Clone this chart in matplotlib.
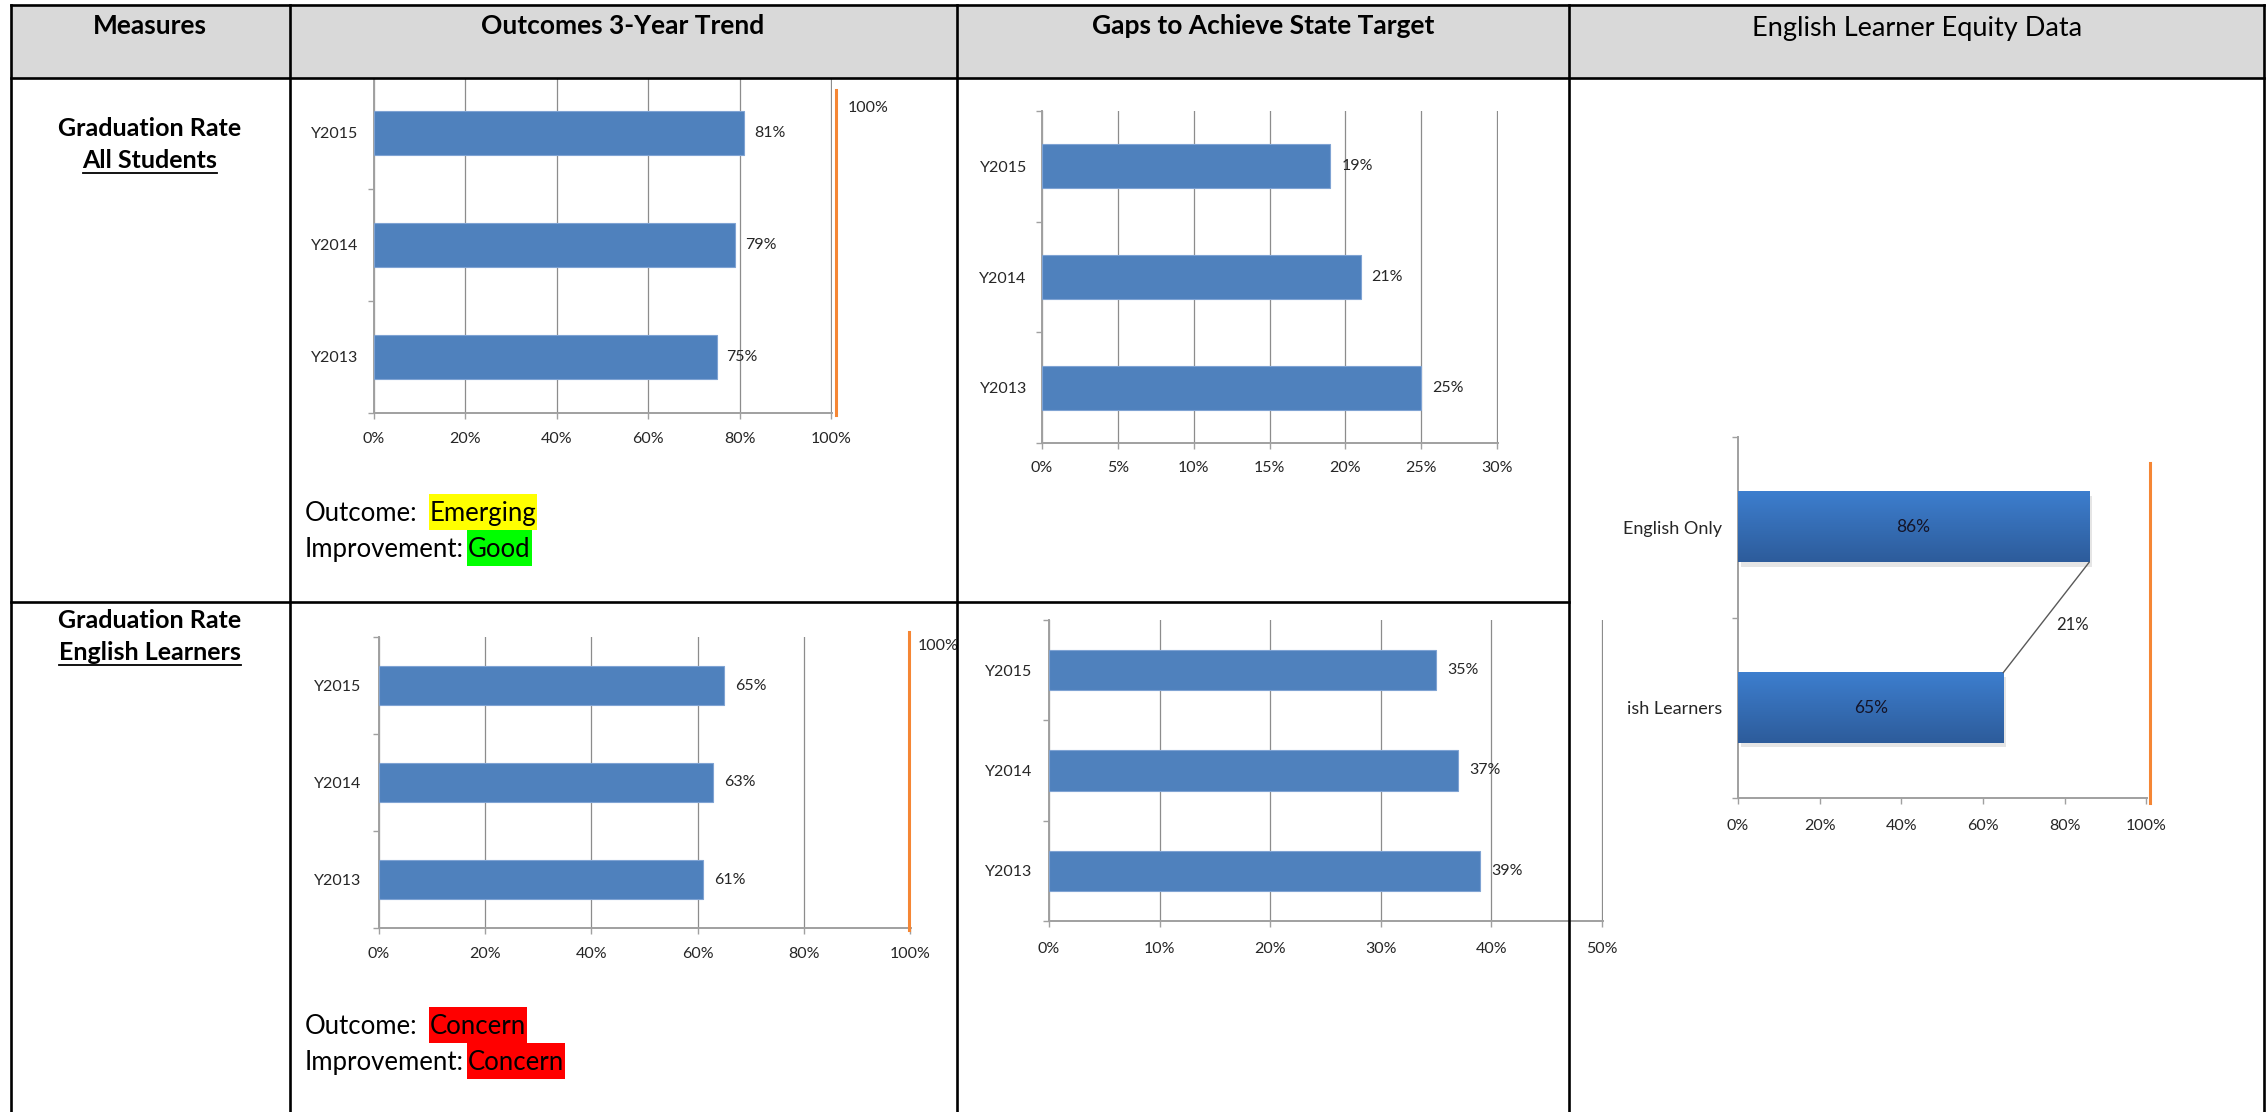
import numpy as np
import matplotlib
matplotlib.use("Agg")
import matplotlib.pyplot as plt
from matplotlib.patches import Rectangle
from matplotlib.ticker import PercentFormatter
from matplotlib.colors import LinearSegmentedColormap
from matplotlib.transforms import offset_copy, Bbox, TransformedBbox
import matplotlib.patheffects as pe

plt.rcParams["font.family"] = ["Lato", "DejaVu Sans"]

# ----- Data -----
years = ["Y2013", "Y2014", "Y2015"]
all_rate = [0.75, 0.79, 0.81]
all_gap = [0.25, 0.21, 0.19]
el_rate = [0.61, 0.63, 0.65]
el_gap = [0.39, 0.37, 0.35]
equity_groups = ["English Learners", "English Only"]
equity_rate = [0.65, 0.86]
state_target = 1.0

headers = ["Measures", "Outcomes 3-Year Trend", "Gaps to Achieve State Target",
           "English Learner Equity Data"]

# ----- Colors -----
BLUE = "#4F81BD"
BLUE_EDGE = "#7FA3D3"
GRID = "#8C8C8C"
AXIS = "#A0A0A0"
ORANGE = "#F58634"
INK = "#262626"
HEAD_BG = "#D9D9D9"

W, H = 2266, 1112
fig = plt.figure(figsize=(W / 100, H / 100), dpi=100)
fig.patch.set_facecolor("white")


def add_ax(l, t, r, b):
    ax = fig.add_axes([l / W, 1 - b / H, (r - l) / W, (b - t) / H])
    ax.patch.set_visible(False)
    return ax


def style_axes(ax, xmax, step, xpad, ypad, ysize=11.5):
    ax.set_xlim(0, xmax * 1.002)
    ax.set_xticks(np.arange(0, xmax + 1e-9, step))
    ax.xaxis.set_major_formatter(PercentFormatter(1.0, decimals=0))
    ax.tick_params(axis="x", length=4, width=1, color=AXIS, pad=xpad,
                   labelsize=11.5, labelcolor=INK)
    ax.tick_params(axis="y", which="major", length=0, pad=ypad,
                   labelsize=ysize, labelcolor=INK)
    ax.tick_params(axis="y", which="minor", length=4, width=1, color=AXIS)
    for s in ("top", "right"):
        ax.spines[s].set_visible(False)
    for s in ("left", "bottom"):
        ax.spines[s].set_color(AXIS)
        ax.spines[s].set_linewidth(1.4)


def trend_chart(ax, vals, xmax, step, xpad, ypad, lpad):
    y = np.arange(len(years))
    bars = ax.barh(y, vals, height=0.4, color=BLUE, edgecolor=BLUE_EDGE,
                   linewidth=0.8, zorder=3)
    ax.set_ylim(-0.5, len(years) - 0.5)
    ax.set_yticks(y, years)
    ax.set_yticks(np.arange(-0.5, len(years)), minor=True)
    style_axes(ax, xmax, step, xpad, ypad)
    ax.grid(axis="x", color=GRID, linewidth=0.9)
    ax.set_axisbelow(True)
    ax.bar_label(bars, labels=[f"{v:.0%}" for v in vals], padding=lpad,
                 fontsize=11.5, color=INK)
    return bars


def target_line(ax, ymin, ymax, dx, label_y=None, label_dx=0):
    tr = offset_copy(ax.get_xaxis_transform(), fig=fig, x=dx, y=0, units="dots")
    ax.plot([state_target, state_target], [ymin, ymax], color=ORANGE,
            linewidth=2.2, transform=tr, clip_on=False, zorder=4)
    if label_y is not None:
        ax.annotate(f"{state_target:.0%}", xy=(state_target, label_y),
                    xycoords=ax.get_xaxis_transform(), xytext=(label_dx, 0),
                    textcoords="offset pixels", ha="left", va="center",
                    fontsize=11.5, color=INK, annotation_clip=False)


# Outcomes, all students
ax1 = add_ax(374, 77, 832, 413)
trend_chart(ax1, all_rate, 1.0, 0.2, 10, 11.5, 7)
target_line(ax1, -0.006, 0.961, 5, 0.908, 17)

# Gaps, all students
ax2 = add_ax(1042, 111, 1498, 443)
trend_chart(ax2, all_gap, 0.30, 0.05, 9, 11, 8)

# Outcomes, English learners
ax3 = add_ax(379, 637, 911, 928)
trend_chart(ax3, el_rate, 1.0, 0.2, 10, 13, 8)
target_line(ax3, -0.007, 1.017, -1, 0.969, 8)

# Gaps, English learners
ax4 = add_ax(1049, 620, 1603, 921)
trend_chart(ax4, el_gap, 0.50, 0.10, 11, 12, 8)

# Equity chart
ax5 = add_ax(1738, 437, 2147, 798)
ye = np.arange(len(equity_groups))
shadow = [pe.SimplePatchShadow(offset=(2, -3), shadow_rgbFace="black", alpha=0.10),
          pe.Normal()]
ebars = ax5.barh(ye, equity_rate, height=0.39, color="#3468AE",
                 edgecolor="none", zorder=3, path_effects=shadow)
grad_cmap = LinearSegmentedColormap.from_list("eq", ["#2D5C9B", "#3D7ECE"])
grad = np.linspace(0, 1, 64).reshape(-1, 1)
for b in ebars:
    ax5.imshow(grad, extent=(b.get_x(), b.get_x() + b.get_width(),
                             b.get_y(), b.get_y() + b.get_height()),
               origin="lower", aspect="auto", cmap=grad_cmap, zorder=3.5,
               clip_path=b)
ax5.set_ylim(-0.5, len(equity_groups) - 0.5)
ax5.set_yticks(ye, equity_groups)
ax5.set_yticks(np.arange(-0.5, len(equity_groups)), minor=True)
style_axes(ax5, 1.0, 0.2, 11, 11.5, ysize=13)
for t in ax5.bar_label(ebars, labels=[f"{v:.0%}" for v in equity_rate],
                       label_type="center", fontsize=12.5, color="#141428"):
    t.set_zorder(5)
# connector between the two bar ends, labelled with the gap
x_hi, x_lo = equity_rate[1], equity_rate[0]
y_hi = ebars[1].get_y()
y_lo = ebars[0].get_y() + ebars[0].get_height()
ax5.plot([x_hi, x_lo], [y_hi, y_lo], color="#595959", linewidth=1, zorder=4)
ax5.annotate(f"{round((x_hi - x_lo) * 100):.0f}%", xy=((x_hi + x_lo) / 2, (y_hi + y_lo) / 2),
             xytext=(10, -8), textcoords="offset pixels", ha="left", va="center",
             fontsize=12, color=INK)
target_line(ax5, -0.014, 0.928, 4)

# ----- Table frame overlay -----
ov = fig.add_axes([0, 0, 1, 1], zorder=10)
ov.set_xlim(0, W)
ov.set_ylim(H, 0)
ov.axis("off")
ov.patch.set_visible(False)

renderer = fig.canvas.get_renderer()


def px_extent(t):
    bb = t.get_window_extent(renderer)
    return bb.x0, bb.x1


# the category label of the learners bar is cut off on its left in the source
fig.canvas.draw()
lbl = ax5.get_yticklabels()[0]
lx1 = lbl.get_window_extent(renderer).x1
probe = fig.text(0, 0, "ish Learners", fontsize=13)
pw = probe.get_window_extent(renderer).width
probe.remove()
clip = TransformedBbox(Bbox([[(lx1 - pw - 1) / W, 0], [1, 1]]), fig.transFigure)
lbl.set_clip_box(clip)
lbl.set_clip_on(True)

LW = 1.9
ov.add_patch(Rectangle((11, 5), 2264 - 11, 78 - 5, facecolor=HEAD_BG,
                       edgecolor="none", zorder=0))
ov.plot([11, 2264], [5, 5], color="black", lw=LW)
ov.plot([11, 2264], [78, 78], color="black", lw=LW)
ov.plot([11, 1569], [602, 602], color="black", lw=LW)
for x in (11, 290, 957, 1569, 2264):
    ov.plot([x, x], [5, H], color="black", lw=LW)

# headers
head_x = [150, 623, 1263, 1917]
for i, (txt, x) in enumerate(zip(headers, head_x)):
    ov.text(x, 34 if i < 3 else 36, txt, ha="center", va="baseline",
            fontsize=19 if i < 3 else 19.5,
            fontweight="bold" if i < 3 else "normal", color="black")

# measure names
measures = [("Graduation Rate", "All Students", 136, 168),
            ("Graduation Rate", "English Learners", 628, 660)]
for top, sub, y1, y2 in measures:
    ov.text(150, y1, top, ha="center", va="baseline", fontsize=18, fontweight="bold")
    t = ov.text(150, y2, sub, ha="center", va="baseline", fontsize=18, fontweight="bold")
    x0, x1 = px_extent(t)
    ov.plot([x0, x1], [y2 + 5, y2 + 5], color="black", lw=1.3)

# outcome / improvement ratings
ratings = [(("Outcome:", "Emerging", "#FFFF00"), ("Improvement:", "Good", "#00FF00"), 521),
           (("Outcome:", "Concern", "#FF0000"), ("Improvement:", "Concern", "#FF0000"), 1034)]
for r1, r2, base in ratings:
    for (pre, word, col), yb, gap in ((r1, base, 12), (r2, base + 36, 4)):
        tp = ov.text(305, yb, pre, ha="left", va="baseline", fontsize=18.5)
        _, px1 = px_extent(tp)
        tw = ov.text(px1 + gap, yb, word, ha="left", va="baseline", fontsize=18.5, zorder=3)
        wx0, wx1 = px_extent(tw)
        ov.add_patch(Rectangle((wx0 - 1, yb - 27), wx1 - wx0 + 2, 36,
                               facecolor=col, edgecolor="none", zorder=2))

fig.savefig("out.png", dpi=100, facecolor="white")
